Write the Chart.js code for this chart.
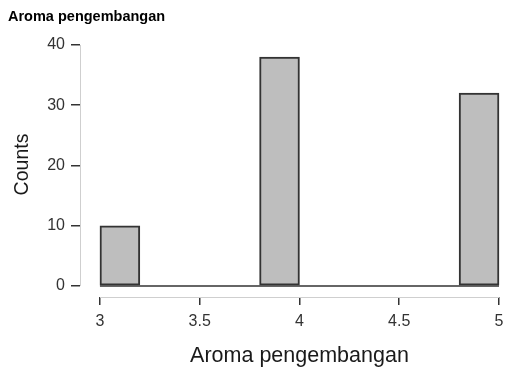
<!DOCTYPE html>
<html>
<head>
<meta charset="utf-8">
<script src="https://cdn.jsdelivr.net/npm/chart.js@4.4.1/dist/chart.umd.min.js"></script>
<style>
  html, body { margin: 0; padding: 0; background: #ffffff; }
  #wrap { width: 507px; height: 370px; position: relative; }
</style>
</head>
<body>
<div id="wrap"><canvas id="c" width="507" height="370"></canvas></div>
<script>
// ---- data ----
const chartTitle = "Aroma pengembangan";
const xTitle = "Aroma pengembangan";
const yTitle = "Counts";
const binStarts = [3.0, 3.2, 3.4, 3.6, 3.8, 4.0, 4.2, 4.4, 4.6, 4.8];
const binEnds   = [3.2, 3.4, 3.6, 3.8, 4.0, 4.2, 4.4, 4.6, 4.8, 5.0];
const counts    = [10, 0, 0, 0, 38, 0, 0, 0, 0, 32];
const xTicks = [3, 3.5, 4, 4.5, 5];
const xTickLabels = ["3", "3.5", "4", "4.5", "5"];
const yTicks = [0, 10, 20, 30, 40];

const FONT = "'Liberation Sans', Arial, sans-serif";
const barData = binStarts.map((s, i) => ({ x: (s + binEnds[i]) / 2, y: counts[i] }));

const axesPlugin = {
  id: 'axesPlugin',
  afterDatasetsDraw(chart) {
    const ctx = chart.ctx;
    const xs = chart.scales.x, ys = chart.scales.y;
    const x0 = xs.getPixelForValue(xTicks[0]);
    const x1 = xs.getPixelForValue(xTicks[xTicks.length - 1]);
    const y0 = ys.getPixelForValue(yTicks[0]);
    const y1 = ys.getPixelForValue(yTicks[yTicks.length - 1]);
    ctx.save();
    // baseline of histogram
    ctx.strokeStyle = '#333333';
    ctx.lineWidth = 1.5;
    ctx.beginPath();
    ctx.moveTo(xs.getPixelForValue(binStarts[0]), y0);
    ctx.lineTo(xs.getPixelForValue(binEnds[binEnds.length - 1]), y0);
    ctx.stroke();
    // axis lines
    ctx.strokeStyle = '#cfcfcf';
    ctx.lineWidth = 1;
    ctx.beginPath();
    ctx.moveTo(xs.left + 0.5, y0);
    ctx.lineTo(xs.left + 0.5, y1);
    ctx.stroke();
    ctx.beginPath();
    ctx.moveTo(x0, ys.bottom + 0.5);
    ctx.lineTo(x1, ys.bottom + 0.5);
    ctx.stroke();
    // axis titles
    ctx.fillStyle = '#1a1a1a';
    ctx.textAlign = 'center';
    ctx.textBaseline = 'middle';
    ctx.font = '21.5px ' + FONT;
    ctx.fillText(xTitle, (x0 + x1) / 2, 356);
    ctx.font = '19.5px ' + FONT;
    ctx.translate(23, (y0 + y1) / 2 - 1);
    ctx.rotate(-Math.PI / 2);
    ctx.fillText(yTitle, 0, 0);
    ctx.restore();
  }
};

new Chart(document.getElementById('c'), {
  type: 'bar',
  data: {
    datasets: [{
      data: barData,
      backgroundColor: '#bebebe',
      borderColor: '#333333',
      borderWidth: 2,
      borderSkipped: false,
      barPercentage: 1,
      categoryPercentage: 1,
      clip: false
    }]
  },
  options: {
    responsive: false,
    animation: false,
    devicePixelRatio: 1,
    layout: { padding: { left: 8, right: 8, top: 0, bottom: 0 } },
    plugins: {
      legend: { display: false },
      tooltip: { enabled: false },
      title: {
        display: true,
        text: chartTitle,
        align: 'start',
        color: '#000000',
        font: { family: FONT, size: 14.5, weight: 'bold' },
        padding: { top: 8, bottom: 19.6 }
      }
    },
    scales: {
      x: {
        type: 'linear',
        offset: false,
        min: 2.9,
        max: 5,
        afterFit(s) { s.height = 73; s.paddingRight = 0; s.paddingLeft = 0; },
        afterBuildTicks(s) { s.ticks = xTicks.map(v => ({ value: v })); },
        border: { display: false },
        grid: { offset: false, drawOnChartArea: false, drawTicks: true, tickLength: 8, tickColor: '#333333', lineWidth: 1.5 },
        ticks: {
          color: '#333333',
          font: { family: FONT, size: 16 },
          padding: 7,
          maxRotation: 0,
          callback(v) { const i = xTicks.indexOf(v); return i >= 0 ? xTickLabels[i] : ''; }
        }
      },
      y: {
        type: 'linear',
        min: -1.83,
        max: 40,
        afterFit(s) { s.width = 72; },
        afterBuildTicks(s) { s.ticks = yTicks.map(v => ({ value: v })); },
        border: { display: false },
        grid: { drawOnChartArea: false, drawTicks: true, tickLength: 9, tickColor: '#333333', lineWidth: 1.5 },
        ticks: {
          color: '#333333',
          font: { family: FONT, size: 16 },
          padding: 6
        }
      }
    }
  },
  plugins: [axesPlugin]
});
</script>
</body>
</html>
